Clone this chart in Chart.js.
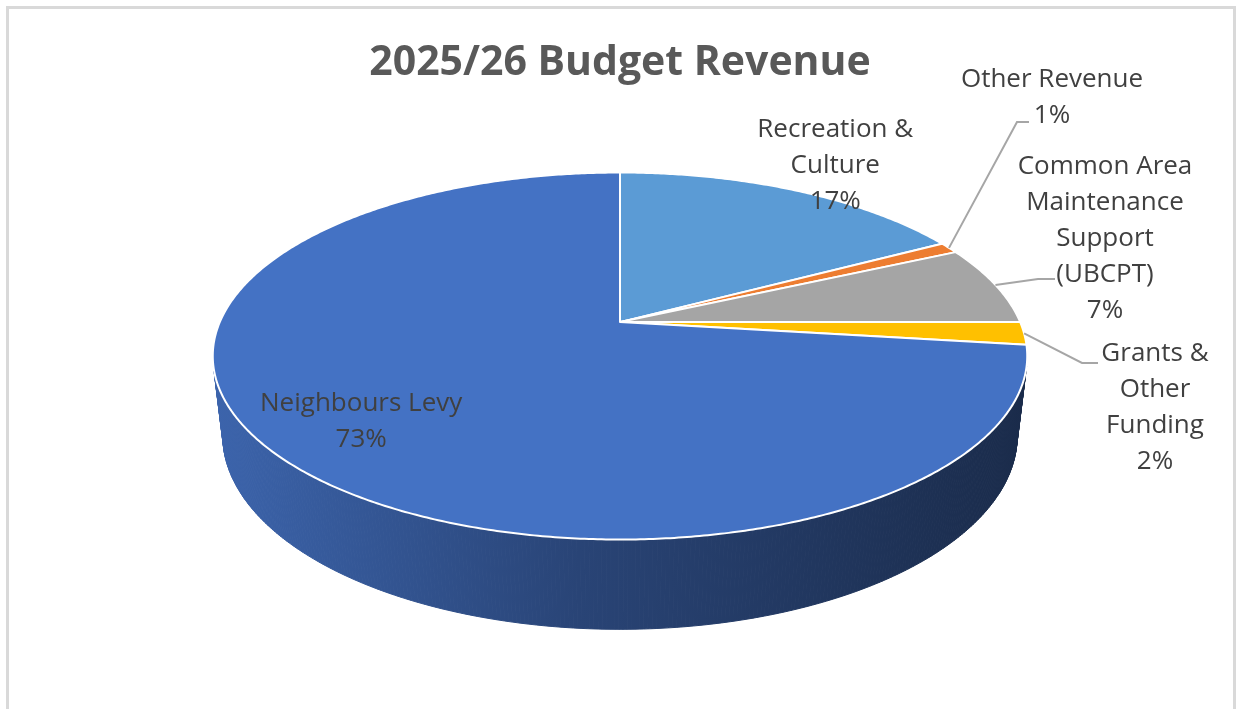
<!DOCTYPE html>
<html>
<head>
<meta charset="utf-8">
<title>2025/26 Budget Revenue</title>
<script src="https://cdn.jsdelivr.net/npm/chart.js@4.4.1/dist/chart.umd.min.js"></script>
<style>
  html, body { margin: 0; padding: 0; background: #fff; }
  canvas { display: block; }
</style>
</head>
<body>
<canvas id="revenueChart" width="1243" height="709"></canvas>
<script>
const categories = [
  ["Recreation &", "Culture"],
  ["Other Revenue"],
  ["Common Area", "Maintenance", "Support", "(UBCPT)"],
  ["Grants &", "Other", "Funding"],
  ["Neighbours Levy"]
];
const shares = [17, 1, 7, 2, 73];
const sliceColors = ["#5B9BD5", "#ED7D31", "#A5A5A5", "#FFC000", "#4472C4"];

// tilt, perspective and thickness of the 3D pie, relative to the radius
const VIEW = { sx: 1.82, sy: 0.806, depth: 0.367, persp: -0.1848, depthPersp: 0.0244 };

// inside labels sit at a radial factor (plus a nudge), outside ones get a spot and a leader line
const labelLayout = [
  { r: 1.27, dy: 5 },
  { x: 1052, y: 80, leader: [[1017, 122], [1029, 122]] },
  { x: 1105, y: 167, leader: [[1038, 279], [1055, 279]] },
  { x: 1155, y: 354, leader: [[1082, 363], [1098, 363]] },
  { r: 0.78, dy: -2 }
];

function project(cx, cy, R, ang, r, z) {
  const u = Math.cos(ang) * r, v = Math.sin(ang) * r;
  const w = 1 + VIEW.persp * v + VIEW.depthPersp * z;
  return { x: cx + R * VIEW.sx * u / w, y: cy + R * (VIEW.sy * v + VIEW.depth * z) / w };
}

function shade(hex, f) {
  const n = parseInt(hex.slice(1), 16);
  const r = Math.round(((n >> 16) & 255) * f);
  const g = Math.round(((n >> 8) & 255) * f);
  const b = Math.round((n & 255) * f);
  return `rgb(${r},${g},${b})`;
}

const pie3d = {
  id: "pie3d",
  beforeDraw(chart) {
    const ctx = chart.ctx;
    ctx.save();
    ctx.fillStyle = "#fff";
    ctx.fillRect(0, 0, chart.width, chart.height);
    ctx.strokeStyle = "#d9d9d9";
    ctx.lineWidth = 3;
    ctx.strokeRect(7.5, 7.5, 1227, 720);
    ctx.restore();
  },
  beforeDatasetsDraw(chart) {
    const ctx = chart.ctx;
    const arcs = chart.getDatasetMeta(0).data;
    const step = Math.PI / 360;
    ctx.save();

    // side wall: only the quads that face the viewer
    arcs.forEach((arc, i) => {
      const { x, y, startAngle, endAngle, outerRadius: R } = arc;
      const left = x - R * VIEW.sx * 1.02, right = x + R * VIEW.sx * 1.02;
      const grad = ctx.createLinearGradient(left, 0, right, 0);
      grad.addColorStop(0, shade(sliceColors[i], 0.88));
      grad.addColorStop(0.45, shade(sliceColors[i], 0.6));
      grad.addColorStop(1, shade(sliceColors[i], 0.38));
      ctx.fillStyle = grad;
      ctx.strokeStyle = grad;
      ctx.lineWidth = 1;
      const n = Math.max(1, Math.ceil((endAngle - startAngle) / step));
      for (let j = 0; j < n; j++) {
        const a1 = startAngle + (endAngle - startAngle) * j / n;
        const a2 = startAngle + (endAngle - startAngle) * (j + 1) / n;
        const q = [
          project(x, y, R, a1, 1, 0), project(x, y, R, a2, 1, 0),
          project(x, y, R, a2, 1, 1), project(x, y, R, a1, 1, 1)
        ];
        let area = 0;
        for (let k = 0; k < 4; k++) {
          const p = q[k], s = q[(k + 1) % 4];
          area += p.x * s.y - s.x * p.y;
        }
        if (area >= 0) continue;
        ctx.beginPath();
        ctx.moveTo(q[0].x, q[0].y);
        for (let k = 1; k < 4; k++) ctx.lineTo(q[k].x, q[k].y);
        ctx.closePath();
        ctx.fill();
        ctx.stroke();
      }
    });

    // top face
    arcs.forEach((arc, i) => {
      const { x, y, startAngle, endAngle, outerRadius: R } = arc;
      const n = Math.max(1, Math.ceil((endAngle - startAngle) / step));
      ctx.beginPath();
      ctx.moveTo(x, y);
      for (let j = 0; j <= n; j++) {
        const p = project(x, y, R, startAngle + (endAngle - startAngle) * j / n, 1, 0);
        ctx.lineTo(p.x, p.y);
      }
      ctx.closePath();
      ctx.fillStyle = sliceColors[i];
      ctx.fill();
      ctx.strokeStyle = "#ffffff";
      ctx.lineWidth = 2;
      ctx.lineJoin = "round";
      ctx.stroke();
    });
    ctx.restore();
    return false;
  },
  afterDraw(chart) {
    const ctx = chart.ctx;
    const arcs = chart.getDatasetMeta(0).data;
    const total = shares.reduce((a, b) => a + b, 0);
    const lh = 36;
    ctx.save();
    ctx.font = '26px "Open Sans"';
    ctx.textAlign = "center";
    ctx.textBaseline = "middle";
    arcs.forEach((arc, i) => {
      const { x, y, startAngle, endAngle, outerRadius: R } = arc;
      const mid = (startAngle + endAngle) / 2;
      const lines = categories[i].concat(Math.round(shares[i] / total * 100) + "%");
      const spot = labelLayout[i];
      let lx, ly;
      if (spot.r !== undefined) {
        const c = project(x, y, R, mid, spot.r, 0);
        lx = c.x;
        ly = c.y + (spot.dy || 0) - (lines.length - 1) * lh / 2;
      } else {
        lx = spot.x;
        ly = spot.y;
        const s = project(x, y, R, mid, 1, 0);
        ctx.strokeStyle = "#a6a6a6";
        ctx.lineWidth = 2;
        ctx.beginPath();
        ctx.moveTo(s.x, s.y);
        spot.leader.forEach(p => ctx.lineTo(p[0], p[1]));
        ctx.stroke();
      }
      ctx.fillStyle = "#404040";
      lines.forEach((t, k) => ctx.fillText(t, lx, ly + k * lh));
    });
    ctx.restore();
  }
};

new Chart(document.getElementById("revenueChart"), {
  type: "pie",
  data: {
    labels: categories,
    datasets: [{
      data: shares,
      backgroundColor: sliceColors,
      borderWidth: 0,
      hoverOffset: 0
    }]
  },
  options: {
    responsive: false,
    animation: false,
    events: [],
    layout: { padding: { top: 0, bottom: 167, left: 0, right: 3 } },
    plugins: {
      legend: { display: false },
      tooltip: { enabled: false },
      title: {
        display: true,
        text: "2025/26 Budget Revenue",
        color: "#595959",
        font: { family: "Open Sans", size: 41, weight: "bold" },
        padding: { top: 39, bottom: 14 }
      }
    }
  },
  plugins: [pie3d]
});
</script>
</body>
</html>
